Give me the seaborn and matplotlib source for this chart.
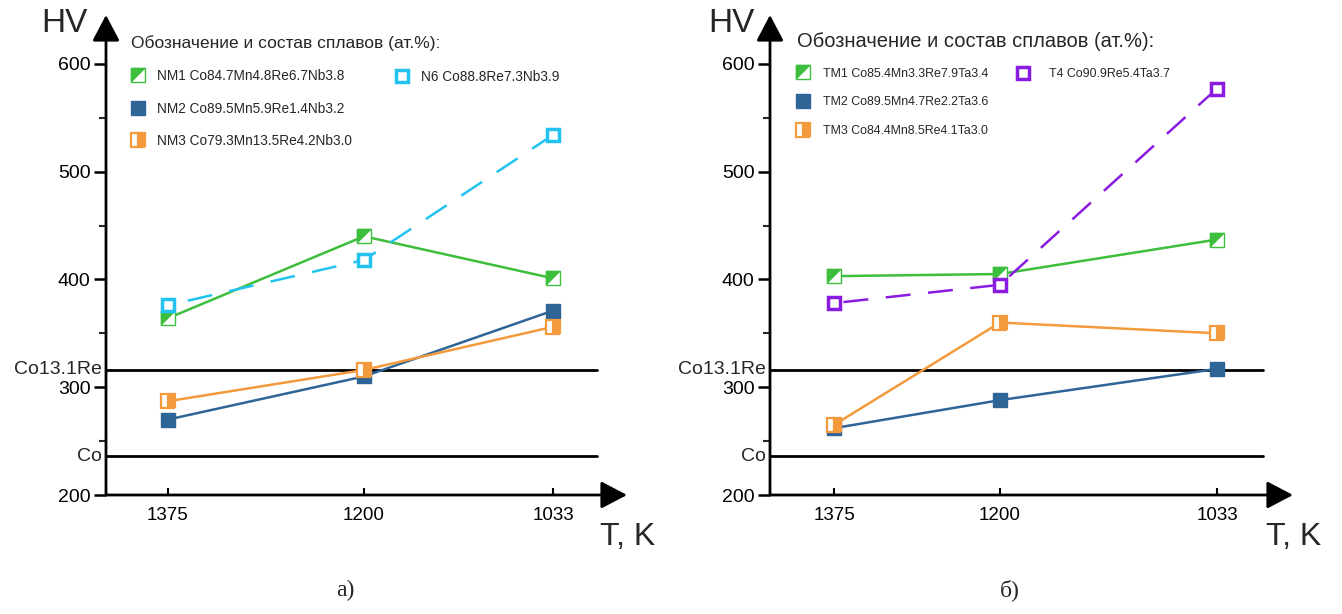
import numpy as np
import pandas as pd
import matplotlib
matplotlib.use("Agg")
import matplotlib.pyplot as plt
import seaborn as sns
from matplotlib.lines import Line2D
from matplotlib.ticker import FixedLocator, NullLocator
import matplotlib.transforms as mtransforms

# ---------------- data ----------------
temps = [1375, 1200, 1033]

left_labels = ["NM1 Co84.7Mn4.8Re6.7Nb3.8", "NM2 Co89.5Mn5.9Re1.4Nb3.2",
               "NM3 Co79.3Mn13.5Re4.2Nb3.0", "N6 Co88.8Re7.3Nb3.9"]
nm1 = [364, 440, 401]
nm2 = [270, 310, 371]
nm3 = [287, 316, 356]
n6 = [376, 418, 534]

right_labels = ["TM1 Co85.4Mn3.3Re7.9Ta3.4", "TM2 Co89.5Mn4.7Re2.2Ta3.6",
                "TM3 Co84.4Mn8.5Re4.1Ta3.0", "T4 Co90.9Re5.4Ta3.7"]
tm1 = [403, 405, 437]
tm2 = [262, 288, 317]
tm3 = [265, 360, 350]
t4 = [378, 395, 577]

ref_labels = ["Co13.1Re", "Co"]
ref_values = [316, 236]

legend_title = "Обозначение и состав сплавов (ат.%):"
y_major = [200, 300, 400, 500, 600]
y_minor = [250, 350, 450, 550]

# ---------------- style ----------------
colors = ["#3DBE3D", "#2F6496", "#F39A3C"]
cyan = "#22C3EE"
purple = "#8A1BE0"
kinds = ["diag", "full", "half", "hollow"]

sns.set_theme(style="white")
plt.rcParams["font.family"] = ["Liberation Sans", "DejaVu Sans"]

W, H = 1342, 614
fig = plt.figure(figsize=(W / 100, H / 100), dpi=100)

MS = 9.5
TRI = [(-1, -1), (-1, 1), (1, 1)]


def marker_kwargs(kind, c, ms=MS):
    if kind == "full":
        return [dict(marker="s", ms=ms, mfc=c, mec=c, mew=1.0)]
    if kind == "hollow":
        return [dict(marker="s", ms=ms - 1.2, mfc="white", mec=c, mew=2.5)]
    if kind == "half":
        return [dict(marker="s", ms=ms, fillstyle="right", mfc=c,
                     mfcalt="white", mec=c, mew=1.6)]
    # diagonal split: upper-left filled
    return [dict(marker="s", ms=ms, mfc="white", mec=c, mew=1.0),
            dict(marker=TRI, ms=ms, mfc=c, mec=c, mew=1.0)]


def make_scale(tlist, px):
    """Piecewise-linear axis scale: temperature -> (negative) pixel position."""
    t = np.array(tlist, float)
    p = np.array(px, float)
    s_lo = (p[1] - p[0]) / (t[0] - t[1])
    s_hi = (p[-1] - p[-2]) / (t[-2] - t[-1])
    tt = np.concatenate([[t[0] + 2000], t, [t[-1] - 2000]])   # descending
    pp = np.concatenate([[p[0] - 2000 * s_lo], p, [p[-1] + 2000 * s_hi]])  # ascending
    ta = tt[::-1]
    qa = -pp[::-1]   # ascending with ta

    def fwd(x):
        return np.interp(x, ta, qa)

    def inv(y):
        return np.interp(y, qa, ta)

    def pos_inv(pix):
        return np.interp(pix, pp, tt)
    return fwd, inv, pos_inv


def draw_panel(rect_px, labels, series, col, tick_px, line_end, legend_cfg,
               fonts):
    x0, x1, ytop, ybot = rect_px
    ax = fig.add_axes([x0 / W, 1 - ybot / H, (x1 - x0) / W, (ybot - ytop) / H])
    width = x1 - x0
    hgt = ybot - ytop
    fwd, inv, pos_inv = make_scale(temps, tick_px)
    ax.set_xscale("function", functions=(fwd, inv))

    df = pd.DataFrame({
        "T": temps * 4,
        "HV": [v for s in series for v in s],
        "alloy": [lab for lab in labels for _ in temps],
    })
    pal = dict(zip(labels, col))
    dashes = {labels[0]: "", labels[1]: "", labels[2]: "", labels[3]: (10, 7)}
    sns.lineplot(data=df, x="T", y="HV", hue="alloy", style="alloy",
                 palette=pal, dashes=dashes, ax=ax, legend=False,
                 linewidth=1.8, zorder=2)

    handles = []
    for lab, s, c, k in zip(labels, series, col, kinds):
        hs = []
        for kw in marker_kwargs(k, c):
            ax.plot(temps, s, ls="none", zorder=4, **kw)
            hs.append(Line2D([], [], ls="none", **kw))
        handles.append(tuple(hs) if len(hs) > 1 else hs[0])

    # reference lines
    for lab, v in zip(ref_labels, ref_values):
        ax.axhline(v, xmin=0, xmax=line_end, color="black", lw=2, zorder=1)
        off = mtransforms.ScaledTranslation(-4 / 100, 0, fig.dpi_scale_trans)
        ax.text(0, v, lab, transform=ax.get_yaxis_transform() + off,
                ha="right", va="center", fontsize=fonts["ref"])

    ax.set_xlim(pos_inv(0), pos_inv(width))
    ax.set_ylim(200, 200 + hgt / 1.078)
    for sp in ax.spines.values():
        sp.set_visible(False)

    ax.xaxis.set_major_locator(FixedLocator(temps))
    ax.xaxis.set_minor_locator(NullLocator())
    ax.set_xticklabels([str(t) for t in temps])
    ax.yaxis.set_major_locator(FixedLocator(y_major))
    ax.yaxis.set_minor_locator(FixedLocator(y_minor))
    ax.tick_params(axis="x", which="major", bottom=True, direction="in",
                   length=5, width=1.5, labelsize=fonts["xt"], pad=9,
                   colors="black")
    ax.tick_params(axis="y", which="major", left=True, direction="out",
                   length=9, width=1.8, labelsize=fonts["yt"], pad=2,
                   colors="black")
    ax.tick_params(axis="y", which="minor", left=True, direction="out",
                   length=5, width=1.5)
    ax.set_xlabel("")
    ax.set_ylabel("")

    arrow = dict(arrowstyle="-|>,head_length=0.8,head_width=0.42", lw=2,
                 color="black", mutation_scale=20, shrinkA=0, shrinkB=0)
    ax.annotate("", xy=(0, 1), xytext=(0, 0), xycoords="axes fraction",
                textcoords="axes fraction", arrowprops=arrow, annotation_clip=False)
    ax.annotate("", xy=(1, 0), xytext=(0, 0), xycoords="axes fraction",
                textcoords="axes fraction", arrowprops=arrow, annotation_clip=False)

    ax.text((legend_cfg["hv_x"] - x0) / width, (ybot - 24) / hgt, "HV",
            transform=ax.transAxes, ha="center", va="center", fontsize=24)
    ax.text((legend_cfg["tk_x"] - x0) / width, (ybot - 537) / hgt,
            "T, K", transform=ax.transAxes, ha="center", va="center",
            fontsize=23)

    leg1 = ax.legend(handles=handles[:3], labels=labels[:3], title=legend_title,
                     loc="upper left",
                     bbox_to_anchor=((legend_cfg["l1x"] - x0) / width,
                                     (ybot - legend_cfg["l1y"]) / hgt),
                     frameon=False, fontsize=fonts["leg"],
                     title_fontsize=fonts["title"], alignment="left",
                     handlelength=1.0, handletextpad=legend_cfg["pad1"],
                     labelspacing=1.35, borderpad=0, borderaxespad=0)
    ax.add_artist(leg1)
    ax.legend(handles=[handles[3]], labels=[labels[3]], loc="upper left",
              bbox_to_anchor=((legend_cfg["l2x"] - x0) / width,
                              (ybot - legend_cfg["l2y"]) / hgt),
              frameon=False, fontsize=fonts["leg"], handlelength=1.0,
              handletextpad=legend_cfg["pad2"], borderpad=0, borderaxespad=0)
    return ax


draw_panel((106, 627, 15, 495), left_labels, [nm1, nm2, nm3, n6],
           colors + [cyan], [62, 258, 447], 0.942,
           dict(hv_x=64, tk_x=628, l1x=131, l1y=35, l2x=395, l2y=70,
                pad1=0.9, pad2=0.9),
           dict(ref=14, xt=13.5, yt=14, leg=9.8, title=12.5))

draw_panel((770, 1293, 15, 495), right_labels, [tm1, tm2, tm3, t4],
           colors + [purple], [64, 230, 447], 0.943,
           dict(hv_x=731, tk_x=1294, l1x=797, l1y=32, l2x=1017, l2y=68,
                pad1=1.1, pad2=1.6),
           dict(ref=14, xt=13.5, yt=14, leg=8.9, title=14.5))

fig.text(345 / W, 1 - 590 / H, "а)", ha="center", va="center", fontsize=17,
         family=["Liberation Serif", "DejaVu Serif"])
fig.text(1010 / W, 1 - 590 / H, "б)", ha="center", va="center", fontsize=17,
         family=["Liberation Serif", "DejaVu Serif"])

fig.savefig("out.png", dpi=100)
